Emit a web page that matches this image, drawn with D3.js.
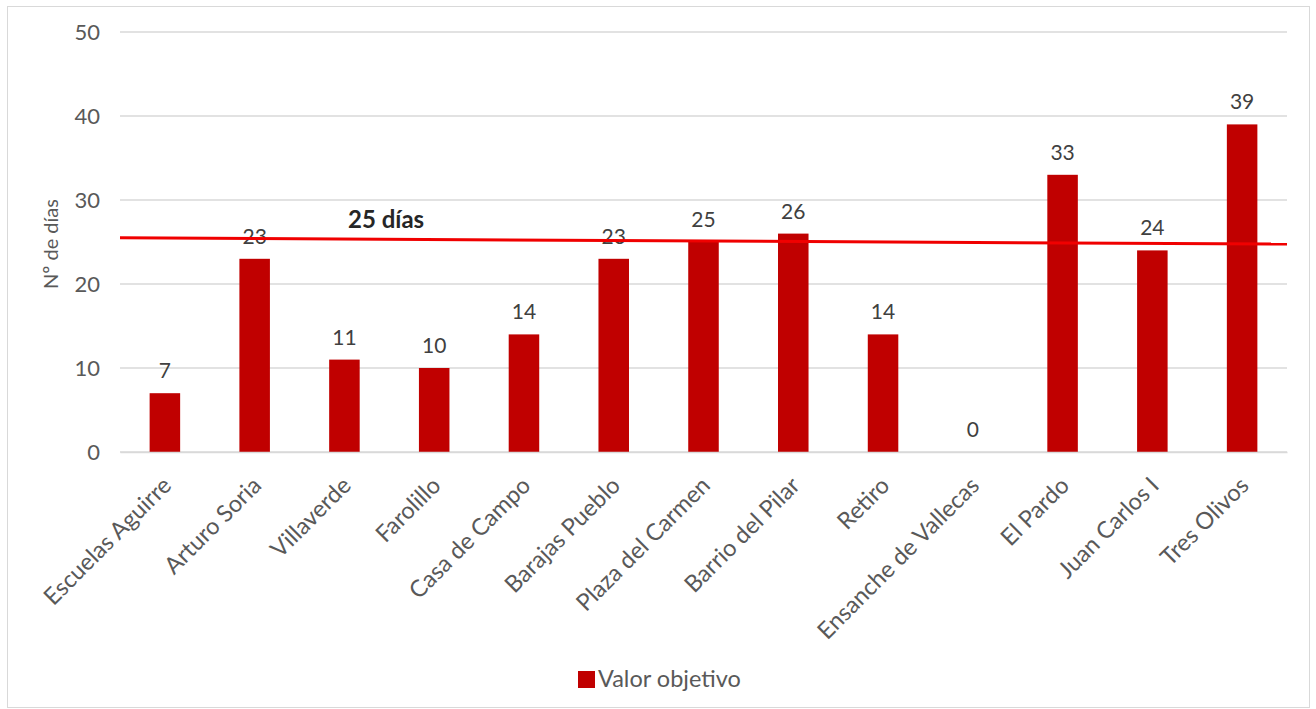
<!DOCTYPE html>
<html><head><meta charset="utf-8">
<script src="https://cdn.jsdelivr.net/npm/d3@7"></script>
<style>body{margin:0;background:#fff}svg{display:block}</style>
</head><body>
<script>
const categories = ["Escuelas Aguirre","Arturo Soria","Villaverde","Farolillo","Casa de Campo","Barajas Pueblo","Plaza del Carmen","Barrio del Pilar","Retiro","Ensanche de Vallecas","El Pardo","Juan Carlos I","Tres Olivos"];
const values = [7,23,11,10,14,23,25,26,14,0,33,24,39];
const yTicks = [0,10,20,30,40,50];
const targetLabel = "25 días";
const targetLine = [25.5, 24.75]; // drawn line: value at left edge, right edge
const seriesName = "Valor objetivo";
const yTitle = "Nº de días";

const W = 1316, H = 709;
const m = {left:120, right:1287, top:32, bottom:452};
const font = "Lato, 'Open Sans', sans-serif";
const svg = d3.select("body").append("svg").attr("width",W).attr("height",H);
svg.append("rect").attr("x",7.5).attr("y",6.5).attr("width",1302).attr("height",701)
  .attr("fill","#fff").attr("stroke","#d9d9d9");

const x = d3.scaleBand().domain(categories).range([m.left,m.right]).paddingInner(0.66).paddingOuter(0.33);
const y = d3.scaleLinear().domain([0,50]).range([m.bottom,m.top]);

// gridlines
svg.append("g").selectAll("line").data(yTicks).join("line")
  .attr("x1",m.left).attr("x2",m.right).attr("y1",d=>y(d)).attr("y2",d=>y(d))
  .attr("stroke","#d9d9d9").attr("stroke-width",1.5);

// y axis
const ya = svg.append("g").attr("transform",`translate(${m.left},0)`)
  .call(d3.axisLeft(y).tickValues(yTicks).tickSize(0).tickPadding(20));
ya.select(".domain").remove();
ya.selectAll("text").attr("font-family",font).attr("font-size",22).attr("fill","#595959");

svg.append("text").attr("transform",`translate(58,${(m.top+m.bottom)/2+2}) rotate(-90)`)
  .attr("text-anchor","middle").attr("font-family",font).attr("font-size",20).attr("fill","#595959").text(yTitle);

// bars
svg.append("g").selectAll("rect").data(values).join("rect")
  .attr("x",(d,i)=>x(categories[i])).attr("width",x.bandwidth())
  .attr("y",d=>y(d)).attr("height",d=>y(0)-y(d)).attr("fill","#c00000");

// data labels
svg.append("g").selectAll("text").data(values).join("text")
  .attr("x",(d,i)=>x(categories[i])+x.bandwidth()/2).attr("y",d=>y(d)-15)
  .attr("text-anchor","middle").attr("font-family",font).attr("font-size",21).attr("fill","#404040").text(d=>d);

// x axis
const xa = svg.append("g").attr("transform",`translate(0,${m.bottom})`)
  .call(d3.axisBottom(x).tickSize(0).tickPadding(0));
xa.select(".domain").attr("stroke","#d9d9d9").attr("stroke-width",1.5);
xa.selectAll("text").attr("font-family",font).attr("font-size",23.5).attr("fill","#595959")
  .attr("text-anchor","end").attr("dy",0)
  .attr("transform","translate(8,35) rotate(-45)");

// target line
svg.append("line").attr("x1",m.left).attr("x2",m.right)
  .attr("y1",y(targetLine[0])).attr("y2",y(targetLine[1]))
  .attr("stroke","#f00000").attr("stroke-width",3);
svg.append("text").attr("x",348).attr("y",y(targetLine[0])-10)
  .attr("font-family",font).attr("font-size",24).attr("font-weight","bold").attr("fill","#262626").text(targetLabel);

// legend
const lg = svg.append("g").attr("transform","translate(578,671)");
lg.append("rect").attr("width",17).attr("height",17).attr("fill","#c00000");
lg.append("text").attr("x",20).attr("y",16).attr("font-family",font).attr("font-size",23.5).attr("fill","#595959").text(seriesName);
</script>
</body></html>
